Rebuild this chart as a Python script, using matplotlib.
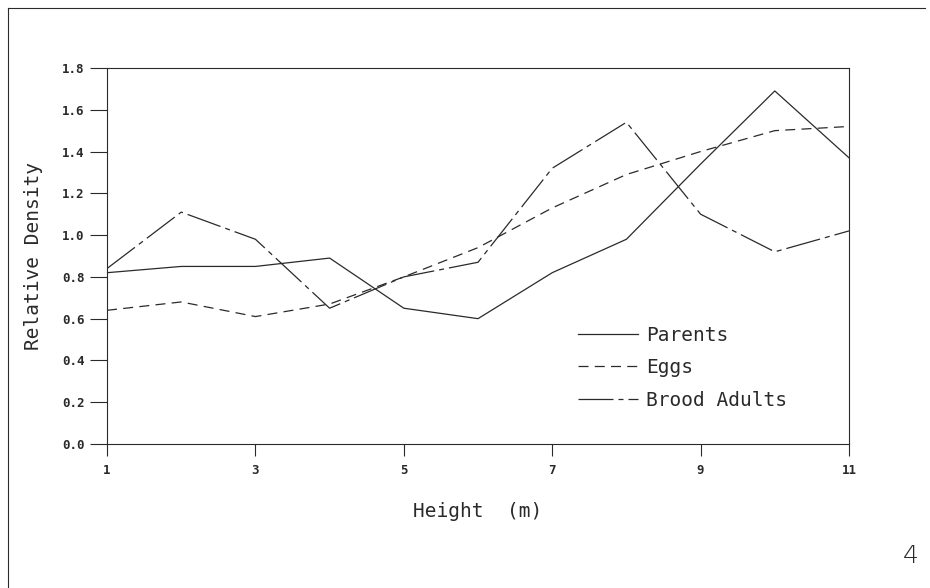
import matplotlib
matplotlib.use("Agg")
import matplotlib.pyplot as plt
from matplotlib.lines import Line2D

# data
height = [1, 2, 3, 4, 5, 6, 7, 8, 9, 10, 11]
parents = [0.82, 0.85, 0.85, 0.89, 0.65, 0.60, 0.82, 0.98, 1.34, 1.69, 1.37]
eggs = [0.64, 0.68, 0.61, 0.67, 0.80, 0.94, 1.13, 1.29, 1.40, 1.50, 1.52]
brood = [0.84, 1.11, 0.98, 0.65, 0.80, 0.87, 1.32, 1.54, 1.10, 0.92, 1.02]
xticks = [1, 3, 5, 7, 9, 11]
yticks = [0.0, 0.2, 0.4, 0.6, 0.8, 1.0, 1.2, 1.4, 1.6, 1.8]

mono = "DejaVu Sans Mono"
ink = "#2a2a2a"

fig = plt.figure(figsize=(9.3, 5.88), dpi=100)
ax = fig.add_axes([0.1151, 0.2449, 0.7978, 0.6395])

ax.plot(height, parents, color=ink, lw=0.9, label="Parents")
ax.plot(height, eggs, color=ink, lw=0.9, dashes=(8, 5), label="Eggs")
ax.plot(height, brood, color=ink, lw=0.9, dashes=(28, 4, 4, 4), label="Brood Adults")

ax.set_xlim(1, 11)
ax.set_ylim(0, 1.8)
ax.set_xticks(xticks)
ax.set_yticks(yticks)
ax.set_xticklabels([str(v) for v in xticks], fontfamily=mono, fontweight="bold", fontsize=9)
ax.set_yticklabels(["%.1f" % v for v in yticks], fontfamily=mono, fontweight="bold", fontsize=9)
ax.tick_params(axis="y", direction="out", length=12, width=0.8, pad=4, colors=ink)
ax.tick_params(axis="x", direction="out", length=8.5, width=0.8, pad=6, colors=ink)
for s in ax.spines.values():
    s.set_linewidth(0.8)
    s.set_color(ink)

ax.set_xlabel("Height  (m)", fontfamily=mono, fontsize=14, color=ink, labelpad=18)
ax.set_ylabel("Relative Density", fontfamily=mono, fontsize=14, color=ink, labelpad=14)

ax.legend(loc="upper left", bbox_to_anchor=(0.635, 0.315), frameon=False,
          borderpad=0, borderaxespad=0, handlelength=3.1, handletextpad=0.4,
          labelspacing=0.7, prop={"family": mono, "size": 14}, labelcolor=ink)

# page frame and page number
fig.add_artist(Line2D([8 / 930, 8 / 930], [0, 1 - 8 / 588], transform=fig.transFigure, color=ink, lw=0.8))
fig.add_artist(Line2D([8 / 930, 925 / 930], [1 - 8 / 588, 1 - 8 / 588], transform=fig.transFigure, color=ink, lw=0.8))
fig.text(911 / 930, 1 - 556 / 588, "4", fontsize=18, color=ink, ha="center", va="center", fontweight="light")

fig.savefig("out.png", dpi=100)
